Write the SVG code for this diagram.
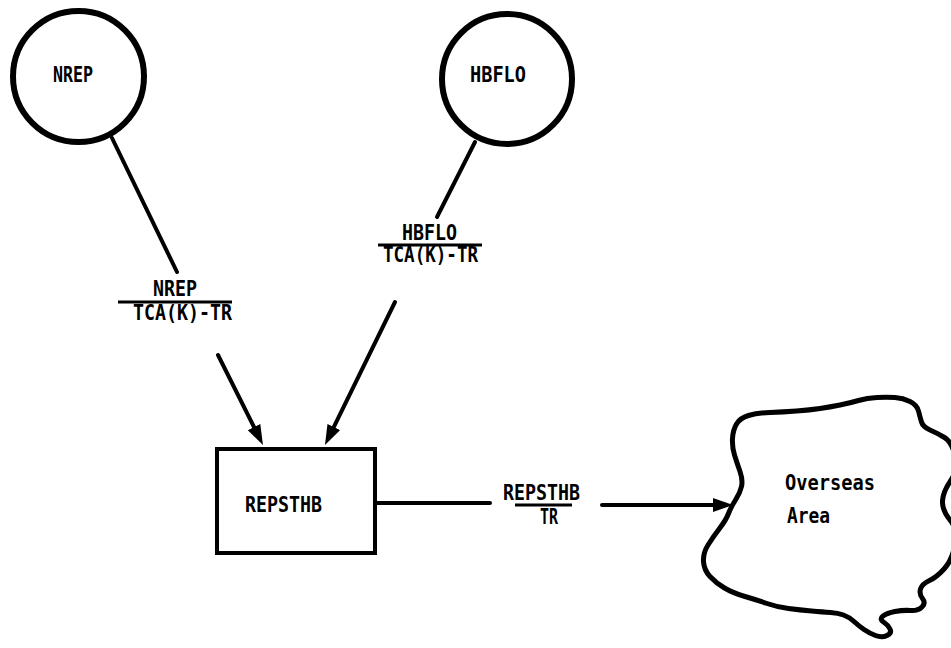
<svg xmlns="http://www.w3.org/2000/svg" width="951" height="648" viewBox="0 0 951 648">
<style>
.t{font-family:"DejaVu Sans Mono","Liberation Mono",monospace;font-weight:bold;font-size:21px;fill:#000}
.ln{stroke:#000;stroke-width:4;fill:none;stroke-linecap:round}
.bar{stroke:#000;stroke-width:3;fill:none}
.node{stroke:#000;fill:#fff}
</style>
<defs>
<marker id="ah" markerUnits="userSpaceOnUse" markerWidth="22" markerHeight="16" refX="12" refY="7" orient="auto">
<path d="M0,0 L20,7 L0,14 Z" fill="#000"/>
</marker>
</defs>
<rect width="951" height="648" fill="#fff"/>
<g id="connectors">
<line class="ln" x1="112" y1="138" x2="177" y2="272"/>
<line class="ln" x1="475" y1="142" x2="437" y2="217"/>
<line class="ln" x1="218" y1="355" x2="259.4" y2="437.8" marker-end="url(#ah)"/>
<line class="ln" x1="395" y1="302" x2="328.5" y2="437.8" marker-end="url(#ah)"/>
<line class="ln" x1="377" y1="503" x2="490" y2="503"/>
<line class="ln" x1="602" y1="505" x2="725" y2="505" marker-end="url(#ah)"/>
<g id="label-nrep">
<text class="t" x="153" y="296" textLength="44" lengthAdjust="spacingAndGlyphs">NREP</text>
<line class="bar" x1="118" y1="302" x2="232" y2="302"/>
<text class="t" x="133" y="320" textLength="99" lengthAdjust="spacingAndGlyphs">TCA(K)-TR</text>
</g>
<g id="label-hbflo">
<text class="t" x="402" y="240" textLength="55" lengthAdjust="spacingAndGlyphs">HBFLO</text>
<line class="bar" x1="378" y1="245" x2="482" y2="245"/>
<text class="t" x="383" y="262" textLength="95" lengthAdjust="spacingAndGlyphs">TCA(K)-TR</text>
</g>
<g id="label-repsthb">
<text class="t" x="503" y="500" textLength="77" lengthAdjust="spacingAndGlyphs">REPSTHB</text>
<line class="bar" x1="515" y1="505" x2="572" y2="505"/>
<text class="t" x="540" y="524" textLength="18" lengthAdjust="spacingAndGlyphs">TR</text>
</g>
</g>
<g id="node-nrep">
<circle class="node" cx="78.5" cy="76.5" r="65.5" stroke-width="6"/>
<text class="t" x="53" y="82" textLength="40" lengthAdjust="spacingAndGlyphs">NREP</text>
</g>
<g id="node-hbflo">
<circle class="node" cx="507" cy="79" r="65" stroke-width="6"/>
<text class="t" x="470" y="82" textLength="56" lengthAdjust="spacingAndGlyphs">HBFLO</text>
</g>
<g id="node-repsthb">
<rect class="node" x="217" y="449" width="158" height="104" stroke-width="4"/>
<text class="t" x="245" y="512" textLength="77" lengthAdjust="spacingAndGlyphs">REPSTHB</text>
</g>
<g id="node-overseas">
<path class="node" stroke-width="5" stroke-linejoin="round" d="M736.5,424 Q740,418 748.5,415.5 Q757,413 770,412.5 Q783,412 796.5,411 Q810,410 820,408.5 Q830,407 840,405 Q850,403 858.5,400.5 Q867,398 877,397.5 Q887,397 895,397.5 Q903,398 910,401.5 Q917,405 918.5,411 Q920,417 921.5,422 Q923,427 930,430 Q937,433 944.5,437.5 Q952,442 955,456 Q958,470 950.5,481 Q943,492 942.5,501 Q942,510 950,520 Q958,530 955,545 Q952,560 944.5,568.5 Q937,577 929.5,580.5 Q922,584 920.5,589 Q919,594 922.5,598.5 Q926,603 922,607 Q918,611 910.5,610.5 Q903,610 895,611.5 Q887,613 883,616 Q879,619 883.5,622 Q888,625 890,629 Q892,633 887,635.5 Q882,638 875.5,635.5 Q869,633 864,629.5 Q859,626 854,621.5 Q849,617 843.5,615 Q838,613 830.5,612.5 Q823,612 811.5,611 Q800,610 788.5,608.5 Q777,607 767,603.5 Q757,600 745,596.5 Q733,593 724.5,588 Q716,583 710,576.5 Q704,570 703.5,561.5 Q703,553 708,545 Q713,537 719.5,528.5 Q726,520 728.5,513.5 Q731,507 735.5,500 Q740,493 741.5,486.5 Q743,480 740,471.5 Q737,463 734.5,455 Q732,447 732.5,438.5 Q733,430 736.5,424 Z"/>
<text class="t" x="785" y="490" textLength="90" lengthAdjust="spacingAndGlyphs">Overseas</text>
<text class="t" x="787" y="523" textLength="43" lengthAdjust="spacingAndGlyphs">Area</text>
</g>
</svg>
